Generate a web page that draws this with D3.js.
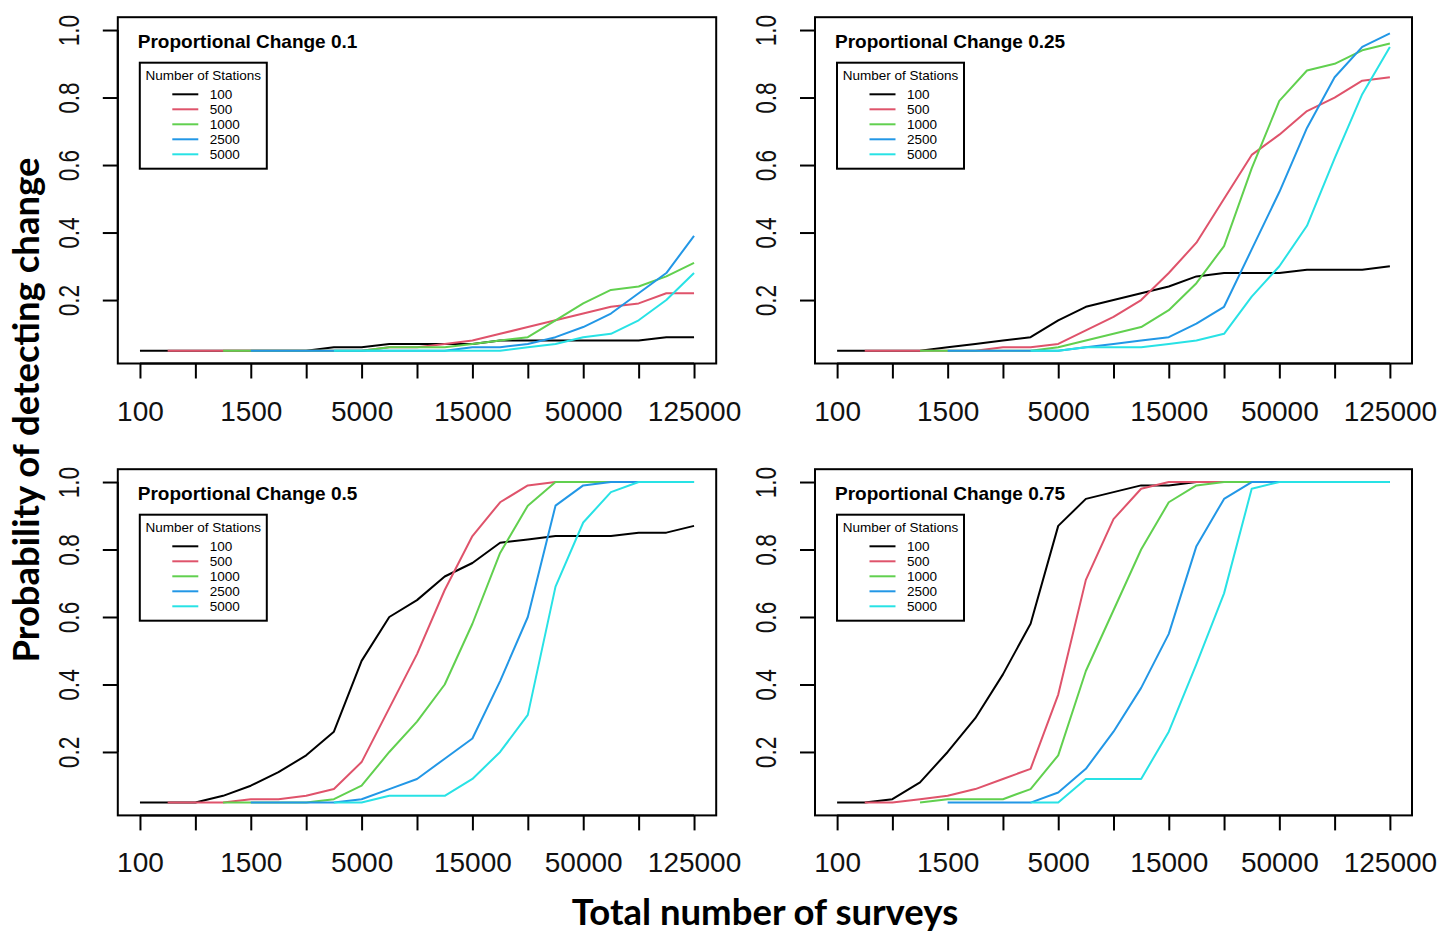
<!DOCTYPE html>
<html>
<head>
<meta charset="utf-8">
<script src="https://cdn.jsdelivr.net/npm/d3@7"></script>
<style>
  body { margin: 0; background: #fff; }
  svg { display: block; }
</style>
</head>
<body>
<div id="chart"></div>
<script>
"use strict";

// x is the position along the survey sequence (21 steps), only every 4th step is labelled
var surveyLabels = ["100", "1500", "5000", "15000", "50000", "125000"];
var probTicks = [0.2, 0.4, 0.6, 0.8, 1.0];
var stationCounts = ["100", "500", "1000", "2500", "5000"];
var panelTitles = ["Proportional Change 0.1", "Proportional Change 0.25",
                   "Proportional Change 0.5", "Proportional Change 0.75"];

// one row per number of stations (100, 500, 1000, 2500, 5000); null = not run
var change010 = [
  [0.05,0.05,0.05,0.05,0.05,0.05,0.05,0.06,0.06,0.07,0.07,0.07,0.07,0.08,0.08,0.08,0.08,0.08,0.08,0.09,0.09],
  [null,0.05,0.05,0.05,0.05,0.05,0.05,0.05,0.05,0.06,0.06,0.07,0.08,0.10,0.12,0.14,0.16,0.18,0.19,0.22,0.22],
  [null,null,null,0.05,0.05,0.05,0.05,0.05,0.05,0.06,0.06,0.06,0.07,0.08,0.09,0.14,0.19,0.23,0.24,0.27,0.31],
  [null,null,null,null,0.05,0.05,0.05,0.05,0.05,0.05,0.05,0.05,0.06,0.06,0.07,0.09,0.12,0.16,0.22,0.28,0.39],
  [null,null,null,null,null,null,null,0.05,0.05,0.05,0.05,0.05,0.05,0.05,0.06,0.07,0.09,0.10,0.14,0.20,0.28]
];
var change025 = [
  [0.05,0.05,0.05,0.05,0.06,0.07,0.08,0.09,0.14,0.18,0.20,0.22,0.24,0.27,0.28,0.28,0.28,0.29,0.29,0.29,0.30],
  [null,0.05,0.05,0.05,0.05,0.05,0.06,0.06,0.07,0.11,0.15,0.20,0.28,0.37,0.50,0.63,0.69,0.76,0.80,0.85,0.86],
  [null,null,null,0.05,0.05,0.05,0.05,0.05,0.06,0.08,0.10,0.12,0.17,0.25,0.36,0.59,0.79,0.88,0.90,0.94,0.96],
  [null,null,null,null,0.05,0.05,0.05,0.05,0.05,0.06,0.07,0.08,0.09,0.13,0.18,0.35,0.52,0.71,0.86,0.95,0.99],
  [null,null,null,null,null,null,null,0.05,0.05,0.06,0.06,0.06,0.07,0.08,0.10,0.21,0.30,0.42,0.62,0.81,0.95]
];
var change050 = [
  [0.05,0.05,0.05,0.07,0.10,0.14,0.19,0.26,0.47,0.60,0.65,0.72,0.76,0.82,0.83,0.84,0.84,0.84,0.85,0.85,0.87],
  [null,0.05,0.05,0.05,0.06,0.06,0.07,0.09,0.17,0.33,0.49,0.68,0.84,0.94,0.99,1,1,1,1,1,1],
  [null,null,null,0.05,0.05,0.05,0.05,0.06,0.10,0.20,0.29,0.40,0.58,0.79,0.93,1,1,1,1,1,1],
  [null,null,null,null,0.05,0.05,0.05,0.05,0.06,0.09,0.12,0.18,0.24,0.41,0.60,0.93,0.99,1,1,1,1],
  [null,null,null,null,null,null,null,0.05,0.05,0.07,0.07,0.07,0.12,0.20,0.31,0.69,0.88,0.97,1,1,1]
];
var change075 = [
  [0.05,0.05,0.06,0.11,0.20,0.30,0.43,0.58,0.87,0.95,0.97,0.99,0.99,1,1,1,1,1,1,1,1],
  [null,0.05,0.05,0.06,0.07,0.09,0.12,0.15,0.37,0.71,0.89,0.98,1,1,1,1,1,1,1,1,1],
  [null,null,null,0.05,0.06,0.06,0.06,0.09,0.19,0.44,0.62,0.80,0.94,0.99,1,1,1,1,1,1,1],
  [null,null,null,null,0.05,0.05,0.05,0.05,0.08,0.15,0.26,0.39,0.55,0.81,0.95,1,1,1,1,1,1],
  [null,null,null,null,null,null,null,0.05,0.05,0.12,0.12,0.12,0.26,0.46,0.67,0.98,1,1,1,1,1]
];

var panelData = [change010, change025, change050, change075];
var lineColors = ["#000000", "#DF536B", "#61D04F", "#2297E6", "#28E2E5"];

var width = 1439, height = 932;
var colLeft = [117.8, 815], colRight = [716.2, 1412];
var rowTop = [17.2, 469.2], rowBottom = [363.5, 815.4];
var tickFont = "'Liberation Sans', Arial, sans-serif";
var titleFont = "Lato, 'Open Sans', sans-serif";

var svg = d3.select("#chart").append("svg")
    .attr("width", width)
    .attr("height", height);

panelData.forEach(function(series, p) {
  var col = p % 2, row = Math.floor(p / 2);
  var left = colLeft[col], right = colRight[col];
  var top = rowTop[row], bottom = rowBottom[row];

  // R style: 4% padding round the data range
  var x = d3.scaleLinear().domain([-0.8, 20.8]).range([left, right]);
  var y = d3.scaleLinear().domain([0.012, 1.038]).range([bottom, top]);

  var g = svg.append("g");

  // lines
  var line = d3.line()
      .defined(function(d) { return d !== null; })
      .x(function(d, i) { return x(i); })
      .y(function(d) { return y(d); });

  series.forEach(function(vals, s) {
    g.append("path")
        .attr("d", line(vals))
        .attr("fill", "none")
        .attr("stroke", lineColors[s])
        .attr("stroke-width", 2)
        .attr("stroke-linejoin", "round");
  });

  // box
  g.append("rect")
      .attr("x", left).attr("y", top)
      .attr("width", right - left).attr("height", bottom - top)
      .attr("fill", "none").attr("stroke", "#000").attr("stroke-width", 2);

  // x axis: ticks every 2nd step, labels every 4th
  var xAxis = d3.axisBottom(x)
      .tickValues(d3.range(0, 21, 2))
      .tickSize(15)
      .tickPadding(0)
      .tickFormat(function(d) { return d % 4 === 0 ? surveyLabels[d / 4] : ""; });
  var gx = g.append("g")
      .attr("transform", "translate(0," + bottom + ")")
      .call(xAxis);
  gx.select(".domain").attr("d", "M" + x(0) + ",0H" + x(20)).attr("stroke-width", 2);
  gx.selectAll(".tick line").attr("stroke-width", 2);
  gx.selectAll(".tick text")
      .attr("y", 57)
      .attr("dy", null)
      .style("font-family", tickFont)
      .style("font-size", "28px")
      .attr("fill", "#111");

  // y axis
  var yAxis = d3.axisLeft(y)
      .tickValues(probTicks)
      .tickSize(15)
      .tickFormat(d3.format(".1f"));
  var gy = g.append("g")
      .attr("transform", "translate(" + left + ",0)")
      .call(yAxis);
  gy.select(".domain").attr("d", "M0," + y(0.2) + "V" + y(1.0)).attr("stroke-width", 2);
  gy.selectAll(".tick line").attr("stroke-width", 2);
  gy.selectAll(".tick text")
      .attr("x", null).attr("dy", null)
      .attr("text-anchor", "middle")
      .attr("transform", "translate(-49,0) rotate(-90) scale(0.78,1)")
      .attr("y", 10)
      .style("font-family", tickFont)
      .style("font-size", "29px")
      .attr("fill", "#111");

  // panel title
  g.append("text")
      .attr("x", left + 20)
      .attr("y", top + 30.3)
      .style("font-family", tickFont)
      .style("font-weight", "bold")
      .style("font-size", "19px")
      .text(panelTitles[p]);

  // legend
  var lg = g.append("g").attr("transform", "translate(" + (left + 22) + "," + (top + 45.5) + ")");
  lg.append("rect")
      .attr("width", 127).attr("height", 106)
      .attr("fill", "#fff").attr("stroke", "#000").attr("stroke-width", 2);
  lg.append("text")
      .attr("x", 63.5).attr("y", 17.5)
      .attr("text-anchor", "middle")
      .style("font-family", tickFont)
      .style("font-size", "13.5px")
      .text("Number of Stations");
  stationCounts.forEach(function(name, k) {
    var ly = 31.6 + 15 * k;
    lg.append("line")
        .attr("x1", 32.5).attr("x2", 58.5)
        .attr("y1", ly).attr("y2", ly)
        .attr("stroke", lineColors[k]).attr("stroke-width", 2);
    lg.append("text")
        .attr("x", 70).attr("y", ly + 4.8)
        .style("font-family", tickFont)
        .style("font-size", "13.5px")
        .text(name);
  });
});

// shared axis titles
svg.append("text")
    .attr("text-anchor", "middle")
    .attr("transform", "translate(39,410) rotate(-90)")
    .style("font-family", titleFont)
    .style("font-weight", "bold")
    .style("font-size", "36.5px")
    .text("Probability of detecting change");

svg.append("text")
    .attr("x", 765).attr("y", 925)
    .attr("text-anchor", "middle")
    .style("font-family", titleFont)
    .style("font-weight", "bold")
    .style("font-size", "36.5px")
    .text("Total number of surveys");
</script>
</body>
</html>
